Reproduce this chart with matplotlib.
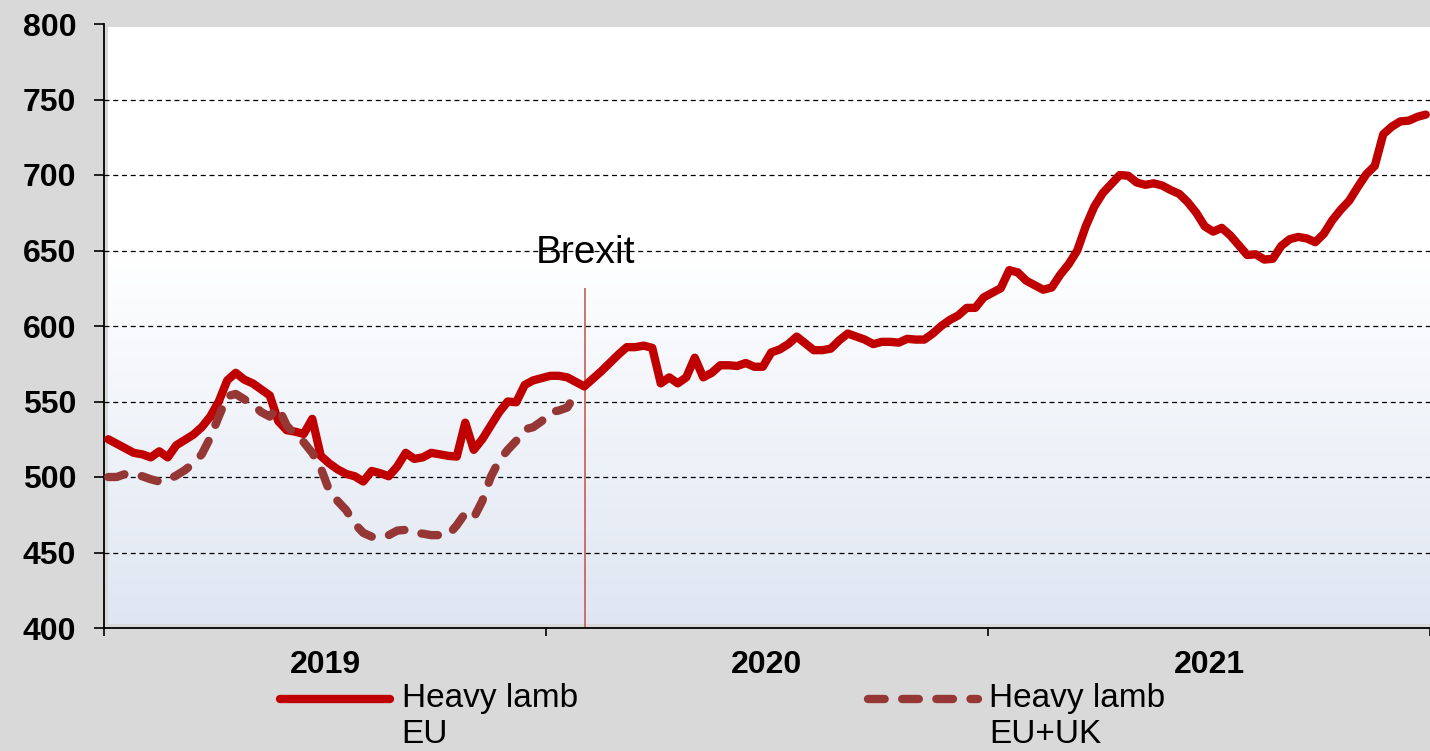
import numpy as np
import matplotlib
matplotlib.use("Agg")
import matplotlib.pyplot as plt
from matplotlib.colors import LinearSegmentedColormap

plt.rcParams['font.family'] = ['Liberation Sans', 'DejaVu Sans']

# weekly heavy lamb prices, 2019 week 1 .. 2021 week 52
eu_prices = [
    525, 522, 519, 516, 515, 513, 517, 513, 521, 524.5,
    528, 533, 540, 550, 564, 569, 564.5, 562, 558, 554,
    537, 531, 530, 528.5, 538.5, 514, 509, 505, 502, 500.5,
    497, 504, 502.5, 500.5, 507, 516, 512, 513, 516, 515,
    514, 513.5, 536, 518, 525, 534, 543, 550, 549.5, 561,
    564, 565.5, 567, 567, 566, 563, 560, 565, 570, 575.5,
    581, 586, 586, 587, 585.5, 562, 566, 562, 566, 579,
    566, 569, 574, 574, 573.5, 575.5, 573, 573, 582.5, 584.5,
    588, 593, 588.5, 584, 584, 585, 590.5, 595, 593, 591,
    588, 589.5, 589.5, 589, 591.5, 591, 591, 595, 600, 604,
    607, 612, 612, 619, 622, 625, 637, 635.5, 630, 627,
    624, 625.5, 634, 641, 650, 666, 679, 688, 694, 700,
    699.5, 695, 693.5, 694.5, 693, 690, 687.5, 682, 675, 666,
    662.5, 665, 660, 653.5, 647, 647.5, 644, 644.5, 653, 657.5,
    659, 658, 655.5, 661, 670, 677, 683, 692, 700.5, 706,
    727, 732, 735.5, 736, 738.5, 740,
]

# EU+UK series stops at Brexit
eu_uk_prices = [
    500, 500, 502, 501.5, 500.5, 498.5, 497, 498, 501, 504.5,
    509, 515, 526, 540, 553.5, 555, 551.5, 548, 543, 540,
    546, 534, 528, 523, 516, 506, 491, 484, 478, 469,
    463, 460.5, 460, 461.5, 464.5, 465, 463, 462.5, 461.5, 461.5,
    461.5, 468, 476, 473, 484, 500, 511, 518, 524, 531.5,
    533, 537, 543, 544, 546, 555,
]

years = ['2019', '2020', '2021']
weeks_per_year = 52
brexit_week = 56.6
brexit_text = 'Brexit'
eu_label = 'Heavy lamb\nEU'
eu_uk_label = 'Heavy lamb\nEU+UK'

W, H = 1430, 751
fig = plt.figure(figsize=(W / 100, H / 100), dpi=100, facecolor='#d9d9d9')
ax = fig.add_axes([104 / W, 123 / H, 1326 / W, 604 / H])
ax.set_facecolor('#d9d9d9')

# plot area background: white fading to light blue at the bottom
n_weeks = weeks_per_year * len(years)
cmap = LinearSegmentedColormap.from_list(
    'bg', [(0, '#ffffff'), (0.38, '#ffffff'), (1, '#dfe6f2')])
grad = np.linspace(0, 1, 256).reshape(-1, 1)
ax.imshow(grad, cmap=cmap, aspect='auto', origin='upper',
          extent=[0.45, n_weeks, 402.5, 797.5], zorder=0)

x_eu = np.arange(len(eu_prices)) + 0.5
x_uk = np.arange(len(eu_uk_prices)) + 0.5

ax.vlines(brexit_week, 400, 625, color='#c0504d', lw=1.1, zorder=2)
ax.text(brexit_week, 641.5, brexit_text, ha='center', va='baseline',
        fontsize=28, color='black')

ax.plot(x_eu, eu_prices, color='#c00000', lw=6, solid_joinstyle='round',
        solid_capstyle='round', zorder=4, label=eu_label)
ax.plot(x_uk, eu_uk_prices, color='#953735', lw=6, dashes=(2.0, 2.1),
        dash_capstyle='round', zorder=5, label=eu_uk_label)

ax.set_xlim(0, n_weeks)
ax.set_ylim(400, 800)

ax.set_yticks(range(400, 801, 50))
ax.grid(axis='y', color='black', lw=0.9, ls=(0, (4, 3)), zorder=1)
ygl = ax.get_ygridlines()
ygl[0].set_visible(False)
ygl[-1].set_visible(False)

ax.set_xticks([i * weeks_per_year for i in range(len(years) + 1)])
ax.set_xticklabels([])
ax.set_xticks([i * weeks_per_year + weeks_per_year / 2 for i in range(len(years))],
              minor=True)
ax.set_xticklabels(years, minor=True)

ax.tick_params(axis='y', direction='out', length=7, width=1.2, pad=13,
               labelsize=23)
ax.tick_params(axis='x', which='major', direction='out', length=6, width=1.2)
ax.tick_params(axis='x', which='minor', length=0, pad=16, labelsize=23)
for lab in ax.get_yticklabels() + ax.get_xticklabels(minor=True):
    lab.set_fontweight('bold')

for s in ['top', 'right']:
    ax.spines[s].set_visible(False)
for s in ['left', 'bottom']:
    ax.spines[s].set_color('black')
    ax.spines[s].set_linewidth(1.3)

leg = ax.legend(loc='upper left', bbox_to_anchor=(280 / W, 68 / H),
                bbox_transform=fig.transFigure, ncol=2, frameon=False,
                fontsize=24, handlelength=3.3, handletextpad=0.35,
                columnspacing=8.7, borderpad=0, borderaxespad=0,
                labelspacing=0)
# put the legend keys level with the first line of each label
for ln in leg.get_lines():
    ln.set_ydata(np.asarray(ln.get_ydata()) + 13)

fig.savefig('out.png', dpi=100, facecolor=fig.get_facecolor())
